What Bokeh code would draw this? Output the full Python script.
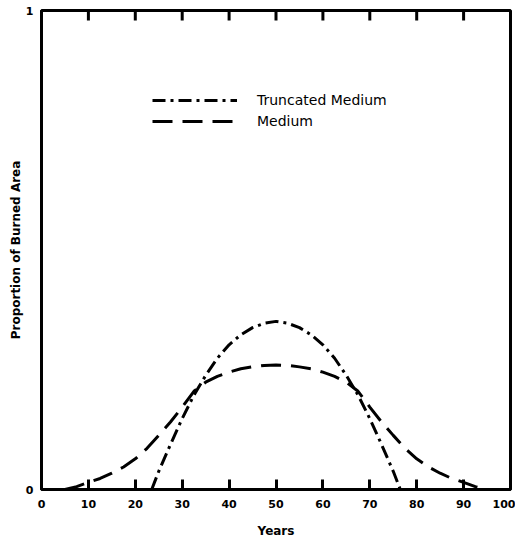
import math
from bokeh.plotting import figure
from bokeh.models import FixedTicker, Legend, LegendItem, Range1d
from bokeh.embed import file_html
from bokeh.resources import INLINE

# Data
medium_years = [5, 7.5, 10, 12.5, 15, 17.5, 20, 22.5, 25, 27.5, 30, 32.5, 35, 37.5, 40,
                42.5, 45, 47.5, 50, 52.5, 55, 57.5, 60, 62.5, 65, 67.5, 70, 72.5, 75,
                77.5, 80, 82.5, 85, 87.5, 90, 92.5, 95]
medium_vals = [0.0, 0.006, 0.015, 0.023, 0.034, 0.047, 0.064, 0.086, 0.113, 0.141, 0.172,
               0.205, 0.224, 0.236, 0.245, 0.252, 0.256, 0.259, 0.26, 0.259, 0.256, 0.252,
               0.245, 0.236, 0.224, 0.205, 0.172, 0.141, 0.113, 0.086, 0.064, 0.047, 0.034,
               0.023, 0.015, 0.006, 0.0]

trunc_years = [23.5, 25, 27.5, 30, 32.5, 35, 37.5, 40, 42.5, 45, 47.5, 50, 52.5, 55, 57.5,
               60, 62.5, 65, 67.5, 70, 72.5, 75, 76.5]
trunc_vals = [0.0, 0.038, 0.094, 0.148, 0.197, 0.238, 0.274, 0.302, 0.323, 0.338, 0.347,
              0.351, 0.347, 0.338, 0.323, 0.302, 0.274, 0.238, 0.197, 0.148, 0.094, 0.038, 0.0]

x_ticks = [0, 10, 20, 30, 40, 50, 60, 70, 80, 90, 100]
inner_ticks = [10, 20, 30, 40, 50, 60, 70, 80, 90]
y_ticks = [0, 1]

p = figure(width=515, height=540, output_backend="svg", toolbar_location=None,
           x_range=Range1d(0, 100), y_range=Range1d(0, 1),
           min_border_left=41, min_border_right=5, min_border_top=10, min_border_bottom=49)
p.grid.visible = False
p.outline_line_color = "black"
p.outline_line_width = 3
p.background_fill_color = "white"
p.border_fill_color = "white"

tick_font = "DejaVu Sans"

xa = p.xaxis[0]
xa.ticker = FixedTicker(ticks=x_ticks)
xa.major_tick_in = 10
xa.major_tick_out = 0
xa.major_tick_line_width = 3
xa.minor_tick_line_color = None
xa.axis_line_width = 3
xa.major_label_text_font = tick_font
xa.major_label_text_font_style = "bold"
xa.major_label_text_font_size = "11px"
xa.major_label_text_color = "black"
xa.major_label_standoff = 10
xa.axis_label = "Years"
xa.axis_label_text_font = tick_font
xa.axis_label_text_font_style = "bold"
xa.axis_label_text_font_size = "12px"
xa.axis_label_text_color = "black"
xa.axis_label_standoff = 13

ya = p.yaxis[0]
ya.ticker = FixedTicker(ticks=y_ticks)
ya.major_tick_in = 0
ya.major_tick_out = 0
ya.minor_tick_line_color = None
ya.axis_line_width = 3
ya.major_label_text_font = tick_font
ya.major_label_text_font_style = "bold"
ya.major_label_text_font_size = "11px"
ya.major_label_text_color = "black"
ya.major_label_standoff = 8
ya.axis_label = "Proportion of Burned Area"
ya.axis_label_text_font = tick_font
ya.axis_label_text_font_style = "bold"
ya.axis_label_text_font_size = "12px"
ya.axis_label_text_color = "black"
ya.axis_label_standoff = 0

# inward ticks along the top edge
p.ray(x=inner_ticks, y=[1] * len(inner_ticks), length=10, length_units="screen",
      angle=-math.pi / 2, line_color="black", line_width=3)

r_trunc = p.line(trunc_years, trunc_vals, line_color="black", line_width=3,
                 line_dash="13 5 3 5")
r_med = p.line(medium_years, medium_vals, line_color="black", line_width=3,
               line_dash="20 10")

legend = Legend(items=[LegendItem(label="Truncated Medium", renderers=[r_trunc]),
                       LegendItem(label="Medium", renderers=[r_med])],
                location=(111, 358), glyph_width=85, glyph_height=20,
                label_height=20, spacing=1, padding=0, margin=0,
                label_standoff=20, border_line_color=None,
                background_fill_alpha=0,
                label_text_font="DejaVu Sans", label_text_font_size="14px",
                label_text_color="black")
p.add_layout(legend, "center")

open("out.html", "w").write(file_html(p, INLINE))
